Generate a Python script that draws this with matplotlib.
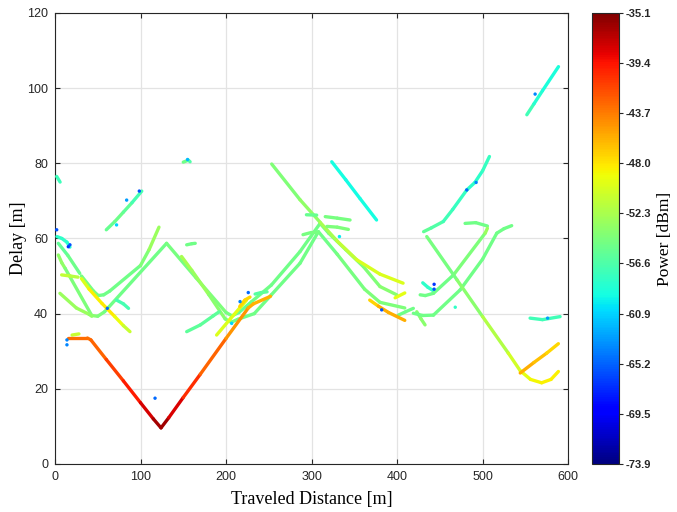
import numpy as np
import matplotlib.pyplot as plt
from matplotlib.collections import LineCollection
from matplotlib.colors import Normalize
from matplotlib.cm import ScalarMappable

plt.rcParams["font.family"] = ["Liberation Sans", "DejaVu Sans"]

# colour bar range [dBm]
p_min, p_max = -73.9, -35.1
cbar_labels = ["-73.9", "-69.5", "-65.2", "-60.9", "-56.6",
               "-52.3", "-48.0", "-43.7", "-39.4", "-35.1"]

# tracks: (traveled distance [m], delay [m], power [dBm])
direct_path = [(15, 33.5, -43), (38, 33.5, -43), (42, 33, -43.5), (60, 27.8, -42),
               (80, 22.1, -40.5), (100, 16.3, -38.8), (115, 12, -37.2), (124, 9.6, -35.6),
               (133, 12.3, -37), (150, 17.7, -39.5), (170, 23.9, -41.5), (200, 33.4, -44),
               (226, 41.5, -45.5), (232, 42.6, -46), (252, 44.6, -46)]
direct_start = [(20, 34.3, -51), (28, 34.6, -51)]

left_cyan = [(2.3, 60.5, -58.5), (8, 60, -58), (14, 59, -58), (17.5, 57.7, -59)]
left_top = [(2, 76.5, -57.5), (6, 75, -57.5)]
upper_v_a = [(3.9, 58.7, -56), (15, 55.5, -55.5), (29, 50.7, -55)]
upper_v_b = [(31, 50, -55), (45, 46, -54.5), (50.6, 44.8, -55), (57, 45, -55),
             (64, 46, -55), (100, 52.8, -55), (110, 57, -53.5), (121.6, 63, -52.5)]
left_yg = [(7.8, 50.3, -51), (18, 50, -51.5), (27, 49.7, -52)]
left_low = [(5.8, 45.4, -53), (25, 41.5, -53), (40, 39.8, -53), (43, 39.3, -54)]
left_yellow = [(31, 49.3, -51), (40, 46.5, -49), (55, 42.7, -48), (70, 39.2, -48.5),
               (80, 36.8, -50), (87.7, 35.2, -52)]
left_short = [(72, 43.6, -57), (80, 42.6, -57), (86, 41.4, -57)]
left_mid = [(60, 62.3, -56), (70, 64.5, -55), (80, 67, -55.5), (90, 69.5, -56),
            (101.5, 72.6, -58)]

zig_outer = [(3.9, 55.6, -55), (8, 53.5, -52), (12, 52, -55), (43, 39.5, -54),
             (50, 39.3, -54), (58, 40.5, -55), (130.5, 58.7, -55), (165, 49.5, -54.5),
             (200, 40.3, -54.5), (207, 39.4, -55), (215, 40.3, -56), (230, 43.2, -55),
             (253, 47.6, -55), (286.5, 56.5, -55), (310, 64, -55), (320, 61.4, -55),
             (340, 57, -54.5), (360.6, 52.5, -54.5), (380, 47.2, -54), (399.6, 45, -54)]
zig_inner = [(148, 55.2, -52.5), (160, 51.5, -52.5), (180, 45, -53.5), (199, 38.6, -54),
             (206, 37.7, -55), (214, 38.5, -55), (233, 40, -55), (253, 45, -55),
             (286.5, 53.4, -55), (308, 61.8, -55), (330, 55.8, -55), (362, 46.5, -54.5),
             (380, 43, -54.5), (409, 41.5, -54.5)]
mid_short = [(154, 58.3, -55), (160, 58.6, -55), (164, 58.7, -55)]
mid_low = [(154, 35.2, -56), (170, 37, -56), (185, 39.4, -56), (192, 40.5, -56)]
mid_top = [(150, 80.3, -54), (156, 80.8, -56), (158, 80.4, -57)]
mid_yellow = [(189, 34.3, -50), (205, 38.6, -50), (224, 43.6, -49.5)]
mid_orange = [(216, 41.9, -47.5), (222, 43.6, -47.5), (228, 44.4, -47.5)]
mid_green = [(234, 45.2, -56.5), (241, 45.6, -56), (248, 45.8, -56)]

long_line = [(253.4, 79.8, -54.5), (286.5, 70.3, -54), (310, 64.3, -53), (330, 59.3, -52),
             (353, 54.3, -50.5), (380, 50.5, -50), (407, 48.1, -50)]
cyan_line = [(323.6, 80.4, -59), (340, 75.6, -59.5), (356.7, 70.6, -59.5), (376, 64.9, -59)]
peak_s1 = [(294, 66.3, -55.5), (306, 66.2, -55.5)]
peak_s2 = [(316, 65.8, -55), (330, 65.4, -54.5), (345, 64.9, -55)]
peak_s3 = [(318, 63.2, -54.5), (330, 63, -54.5), (343, 62.4, -54.5)]
peak_s4 = [(290, 61, -55), (300, 61.6, -54.5), (308, 61.6, -55)]
dip_orange = [(368, 43.6, -48.5), (378, 42, -46), (390, 40.3, -45.5), (409, 38.2, -46)]
dip_yellow = [(397.7, 44.2, -49.5), (409, 45.5, -49.5)]
dip_green_a = [(401.5, 39.6, -55), (410, 40.5, -55), (419, 41.4, -55)]
dip_green_b = [(423, 40.5, -54), (428, 38.6, -54), (432.7, 37, -53.5)]

right_cyan = [(430, 48.2, -58.5), (436, 47, -58), (443, 46, -58)]
right_arc = [(431, 61.8, -55.5), (440, 62.8, -56), (454, 64.5, -57), (465, 67.7, -57.5),
             (481.5, 72.9, -58), (491, 74.9, -58.5), (500, 78, -58), (508, 81.8, -57.5)]
right_flat = [(479.5, 64, -55), (492, 64.2, -55), (505.6, 63.3, -55)]
right_up_a = [(427, 45, -55), (433, 44.8, -55), (442.5, 45.4, -55), (466, 50.3, -55),
              (503, 61.4, -54), (505.6, 62.7, -52)]
right_up_b = [(419, 40.1, -55), (430, 39.5, -55), (442.5, 39.6, -55), (473.7, 46.3, -55),
              (500, 54.5, -55), (516.6, 61.4, -55), (525, 62.6, -55), (534, 63.4, -55)]
right_down = [(434.7, 60.5, -55), (470, 49, -54.5), (500, 39.2, -53), (530, 29.5, -51),
              (544, 24.8, -50), (556, 22.5, -49), (569, 21.6, -48.5), (580, 22.5, -48.5),
              (588.6, 24.6, -48.5)]
right_orange = [(544, 24.2, -45.5), (560, 27, -46), (575, 29.5, -47), (588.6, 32, -48)]
right_low = [(555.5, 38.8, -57), (570, 38.4, -57.5), (590.6, 39.2, -57)]
top_right = [(551.7, 92.9, -56.5), (560, 95.8, -58), (570, 99.3, -59), (588.7, 105.7, -59)]

tracks = [left_top, left_cyan, upper_v_a, upper_v_b, zig_outer, zig_inner, left_low,
          left_yg, left_short, left_mid, left_yellow, mid_short, mid_low, mid_top,
          mid_yellow, mid_orange, mid_green, long_line, cyan_line, peak_s1, peak_s2,
          peak_s3, peak_s4, dip_green_a, dip_green_b, dip_yellow, dip_orange,
          right_cyan, right_arc, right_flat, right_up_a, right_up_b, right_down,
          right_low, top_right, right_orange, direct_start, direct_path]

# isolated samples
dot_x = [2, 15.6, 17.5, 14, 14, 117, 61.2, 98.6, 83.8, 72, 155, 216.4, 226, 206.6,
         382, 443.3, 443.3, 468, 481.5, 492.4, 561.4, 332.6, 576]
dot_y = [62.3, 57.8, 58.3, 33, 31.7, 17.5, 41.4, 72.6, 70.2, 63.6, 81, 43.2, 45.6, 37.4,
         41, 47.8, 46.5, 41.7, 72.9, 74.9, 98.4, 60.5, 38.8]
dot_p = [-66, -67, -66, -64, -64, -65, -65, -66, -63, -61, -62, -64, -65, -61,
         -66, -67, -66, -58, -65, -64, -64, -60, -63]

fig = plt.figure(figsize=(6.77, 5.12), dpi=100)
ax = fig.add_axes([0.0812, 0.0938, 0.758, 0.881])
cax = fig.add_axes([0.8745, 0.0938, 0.04, 0.881])

norm = Normalize(p_min, p_max)
cmap = plt.get_cmap("jet")

for tr in tracks:
    arr = np.array(tr, dtype=float)
    pts = arr[:, :2]
    segs = np.stack([pts[:-1], pts[1:]], axis=1)
    seg_p = (arr[:-1, 2] + arr[1:, 2]) / 2
    lc = LineCollection(segs, colors=cmap(norm(seg_p)), linewidths=2.4,
                        capstyle="round", joinstyle="round", zorder=3)
    ax.add_collection(lc)

ax.scatter(dot_x, dot_y, c=dot_p, cmap=cmap, norm=norm, s=6, zorder=4, linewidths=0)

ax.set_xlim(0, 600)
ax.set_ylim(0, 120)
ax.set_xticks(range(0, 601, 100))
ax.set_yticks(range(0, 121, 20))
ax.grid(True, color="#e3e3e3", linewidth=0.9)
ax.set_axisbelow(True)
ax.tick_params(direction="in", length=3.5, labelsize=9, colors="#262626",
               top=True, right=True, pad=5)
for sp in ax.spines.values():
    sp.set_color("#262626")
    sp.set_linewidth(0.8)
ax.set_xlabel("Traveled Distance [m]", family="Liberation Serif", fontsize=13, labelpad=6)
ax.set_ylabel("Delay [m]", family="Liberation Serif", fontsize=13, labelpad=0)

cb = fig.colorbar(ScalarMappable(norm=norm, cmap=cmap), cax=cax)
cb.set_ticks(np.linspace(p_min, p_max, 10))
cb.set_ticklabels(cbar_labels)
cb.ax.tick_params(labelsize=8, length=3, direction="out", colors="#262626", pad=2)
for lbl in cb.ax.get_yticklabels():
    lbl.set_fontweight("bold")
cb.outline.set_edgecolor("#262626")
cb.outline.set_linewidth(0.8)
cb.set_label("Power [dBm]", family="Liberation Serif", fontsize=12.5, labelpad=4)

fig.savefig("out.png", dpi=100)
